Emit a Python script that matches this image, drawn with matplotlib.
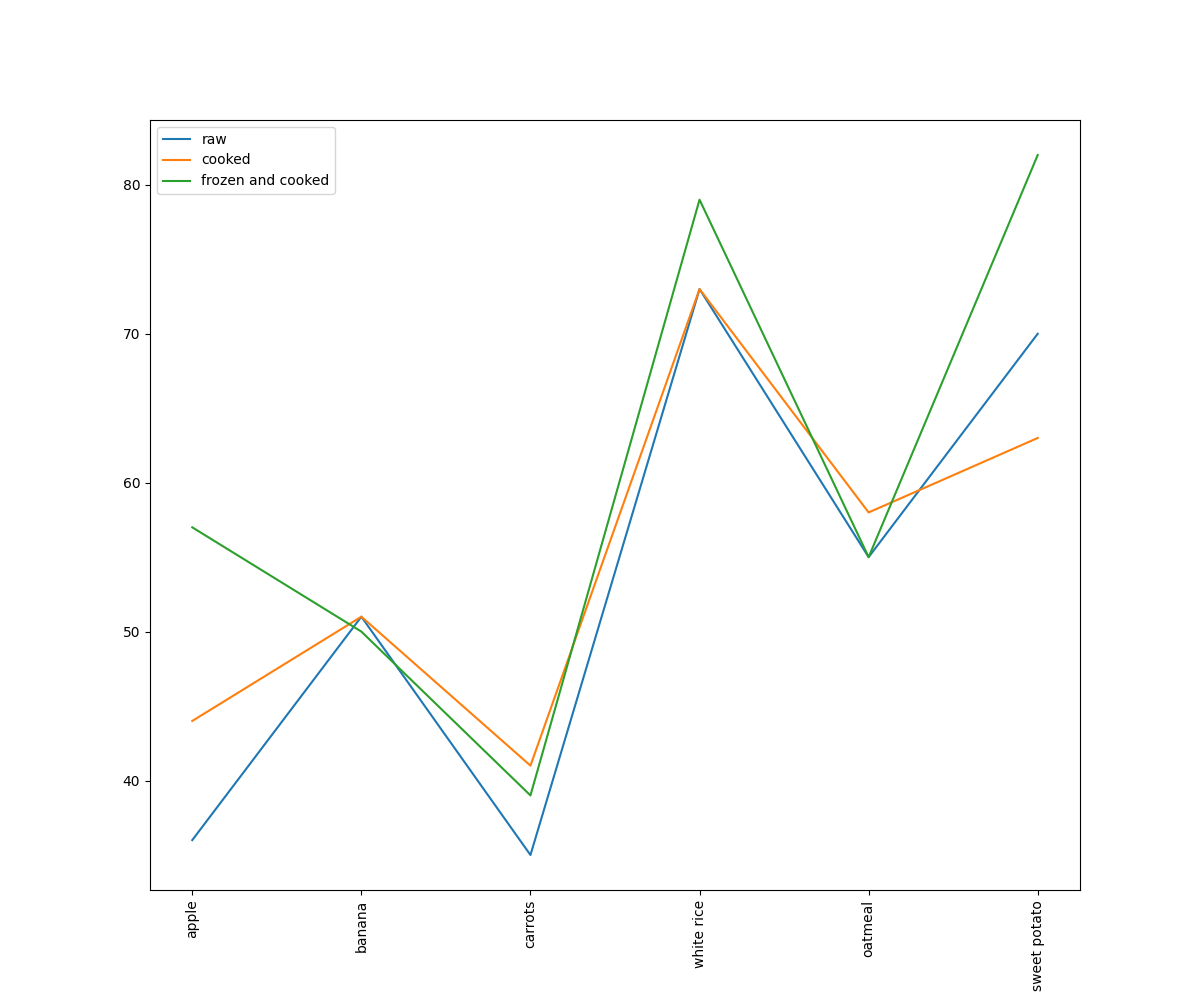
import matplotlib
matplotlib.use("Agg")
import matplotlib.pyplot as plt

categories = ["apple", "banana", "carrots", "white rice", "oatmeal", "sweet potato"]
raw = [36, 51, 35, 73, 55, 70]
cooked = [44, 51, 41, 73, 58, 63]
frozen_cooked = [57, 50, 39, 79, 55, 82]

fig, ax = plt.subplots(figsize=(12, 10), dpi=100)
ax.plot(categories, raw, label="raw")
ax.plot(categories, cooked, label="cooked")
ax.plot(categories, frozen_cooked, label="frozen and cooked")
ax.tick_params(axis="x", labelrotation=90)
ax.legend(loc="upper left")
fig.savefig("out.png")
